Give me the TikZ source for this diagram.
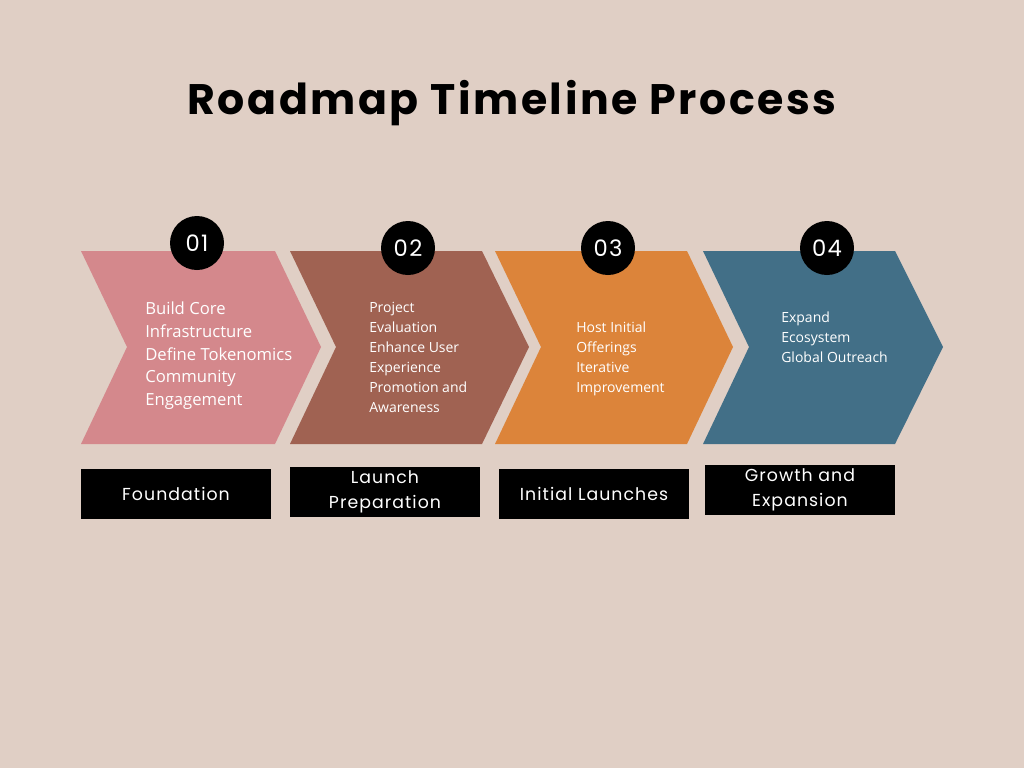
\documentclass[tikz,border=0pt]{standalone}
\usepackage{fontspec}
\setmainfont{Open Sans}
\newfontfamily\pop{Poppins}
\newfontfamily\popw{Poppins}[LetterSpace=6]
\definecolor{bg}{HTML}{E0CFC5}
\definecolor{cpink}{HTML}{D4888C}
\definecolor{cbrown}{HTML}{A06252}
\definecolor{corange}{HTML}{DC843A}
\definecolor{cblue}{HTML}{426F87}
\begin{document}
\begin{tikzpicture}[x=0.75pt,y=-0.75pt,
  num/.style={circle,fill=black,minimum size=40.5pt,inner sep=0pt,text=white,font=\popw\fontsize{17}{17}\selectfont},
  lab/.style={fill=black,minimum width=142.5pt,minimum height=37.5pt,inner sep=0pt,text=white,align=center,font=\popw\fontsize{13}{19}\selectfont},
  body/.style={text=white,align=left,anchor=north west,inner sep=0pt}]
\fill[bg] (0,0) rectangle (1024,768);
\useasboundingbox (0,0) rectangle (1024,768);
\node[font=\popw\bfseries\fontsize{32}{32}\selectfont] (title) at (512,103) {Roadmap Timeline Process};
\fill[cpink] (81,251) -- (275,251) -- (321,347) -- (275,444) -- (81,444) -- (127,347) -- cycle;
\fill[cbrown] (290,251) -- (482,251) -- (529,347) -- (482,444) -- (290,444) -- (336,347) -- cycle;
\fill[corange] (495,251) -- (687,251) -- (733,347) -- (687,444) -- (495,444) -- (541,347) -- cycle;
\fill[cblue] (703,251) -- (895,251) -- (943,347) -- (895,444) -- (703,444) -- (749,347) -- cycle;
\node[num] (n1) at (197,243) {01};
\node[num] (n2) at (408,248) {02};
\node[num] (n3) at (608,248) {03};
\node[num] (n4) at (827,248) {04};
\node[body,font=\fontsize{12.5}{17}\selectfont] (t1) at (145,302) {Build Core\\Infrastructure\\Define Tokenomics\\Community\\Engagement};
\node[body,font=\fontsize{10.5}{15}\selectfont] (t2) at (369,302) {Project\\Evaluation\\Enhance User\\Experience\\Promotion and\\Awareness};
\node[body,font=\fontsize{10.5}{15}\selectfont] (t3) at (576,322) {Host Initial\\Offerings\\Iterative\\Improvement};
\node[body,font=\fontsize{10.5}{15}\selectfont] (t4) at (781,312) {Expand\\Ecosystem\\Global Outreach};
\node[lab] (l1) at (176,494) {Foundation};
\node[lab] (l2) at (385,492) {Launch\\Preparation};
\node[lab] (l3) at (594,494) {Initial Launches};
\node[lab] (l4) at (800,490) {Growth and\\Expansion};
\end{tikzpicture}
\end{document}
